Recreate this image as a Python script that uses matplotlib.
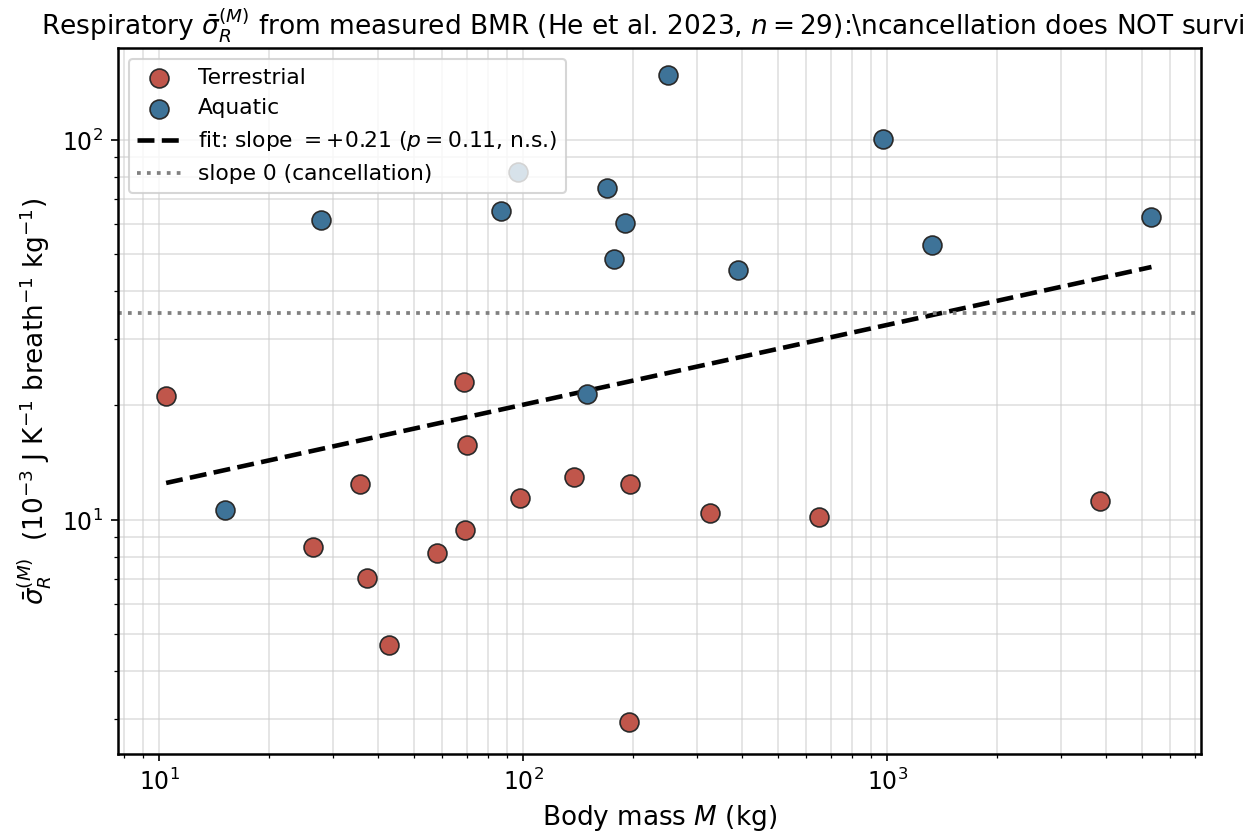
import numpy as np
import matplotlib
matplotlib.use("Agg")
import matplotlib.pyplot as plt

# Terrestrial species: body mass (kg) and sigma_R (1e-3 J K^-1 breath^-1 kg^-1)
terr_mass = [10.45, 26.4, 35.6, 37.2, 42.8, 57.9, 68.7, 70.1, 69.4, 98.0,
             138.0, 197.0, 195.0, 325.0, 651.0, 3830.0]
terr_sigma = [21.2, 8.49, 12.4, 7.03, 4.69, 8.19, 23.1, 15.7, 9.41, 11.4,
              13.0, 12.4, 2.94, 10.4, 10.2, 11.2]

# Aquatic species
aqua_mass = [15.2, 27.9, 86.9, 96.9, 250.0, 170.0, 190.0, 178.0, 150.0,
             390.0, 975.0, 1330.0, 5320.0]
aqua_sigma = [10.6, 61.5, 65.0, 82.4, 148.0, 74.8, 60.6, 48.6, 21.5,
              45.5, 100.6, 52.9, 62.7]

# Fit (power law) and the slope-0 reference level
fit_slope = 0.21
fit_amp = 7.64
cancel_level = 35.1

plt.rcParams['font.family'] = ['DejaVu Sans']
plt.rcParams['font.size'] = 11.3

fig = plt.figure(figsize=(8.3, 5.58), dpi=150)
ax = fig.add_axes([0.0945, 0.0992, 0.8702, 0.8435])

ax.scatter(terr_mass, terr_sigma, s=82, color='#C0564B', edgecolor='#2a2a2a',
           linewidth=0.8, label='Terrestrial', zorder=3)
ax.scatter(aqua_mass, aqua_sigma, s=82, color='#3E7398', edgecolor='#2a2a2a',
           linewidth=0.8, label='Aquatic', zorder=3)

allm = np.array(terr_mass + aqua_mass)
xf = np.logspace(np.log10(allm.min()), np.log10(allm.max()), 100)
ax.plot(xf, fit_amp * xf ** fit_slope, color='black', ls='--', lw=2.2,
        label=r'fit: slope $= +0.21$ ($p = 0.11$, n.s.)', zorder=2)
ax.axhline(cancel_level, color='gray', ls=':', lw=1.8,
           label='slope 0 (cancellation)', zorder=2)

ax.set_xscale('log')
ax.set_yscale('log')
ax.set_xlim(7.69, 7280)
ax.set_ylim(2.42, 174.6)
ax.grid(True, which='both', color='#cccccc', alpha=0.6, lw=0.8)
ax.set_axisbelow(True)

ax.set_xlabel(r'Body mass $M$ (kg)', fontsize=12.6)
ax.set_ylabel(r'$\bar{\sigma}_R^{(M)}$  (10$^{-3}$ J K$^{-1}$ breath$^{-1}$ kg$^{-1}$)',
              fontsize=12.6)
ax.set_title(r'Respiratory $\bar{\sigma}_R^{(M)}$ from measured BMR (He et al. 2023, $n = 29$):'
             r'\ncancellation does NOT survive', fontsize=12.7)

for s in ax.spines.values():
    s.set_linewidth(1.2)

ax.legend(loc='upper left', fontsize=10.45, framealpha=0.8)

fig.savefig('out.png', dpi=150)
